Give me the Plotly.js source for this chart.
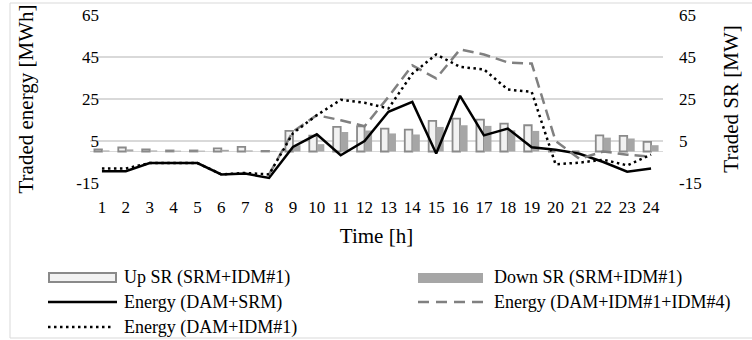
<!DOCTYPE html>
<html>
<head>
<meta charset="utf-8">
<script src="https://cdn.plot.ly/plotly-3.0.1.min.js"></script>
<style>html,body{margin:0;padding:0;background:#fff;} #chart{width:752px;height:340px;}</style>
</head>
<body>
<div id="chart"></div>
<script>
// ---- data ----
var hours = ['1','2','3','4','5','6','7','8','9','10','11','12','13','14','15','16','17','18','19','20','21','22','23','24'];
var upSR   = [1, 1.9, 1, 0.5, 0.5, 1.5, 2.2, 0.3, 9.8, 7.5, 11.7, 12, 10.9, 10.4, 14.6, 15.7, 15.2, 13.3, 12.5, 0, 0, 7.7, 7.4, 4.6];
var downSR = [0.5, 1, 0.5, 0.4, 0.4, 0.8, 0.5, 0.3, 3, 3.5, 9.3, 10, 8.6, 8.1, 11.7, 12.5, 12.2, 10.1, 9.8, 0, 0, 6.6, 6.2, 3];
var energyDamSrm = [-9.4, -9.4, -5.5, -5.5, -5.5, -10.9, -10.5, -12.6, 2.2, 8.2, -1.8, 5, 18.9, 23.6, -1, 26.5, 7.7, 10.9, 2.0, 0.8, -1.1, -5, -9.6, -8.1];
var energyDamIdm1Idm4 = [null, null, null, null, null, null, null, -10.9, 9.5, 17.3, 14.9, 12, 26, 41, 34.8, 48.6, 46.2, 42.4, 41.9, 5, -3.5, 0, -1.5, -2.5];
var energyDamIdm1 = [-8.1, -8.1, -5.5, -5.5, -5.5, -10.9, -10.2, -10.9, 8.7, 17.3, 24.6, 23.2, 20.5, 37, 46.2, 40.3, 39.1, 29.5, 28.4, -6.1, -5.3, -3.9, -6.6, -1.5];
var yTicks = [-15, 5, 25, 45, 65];

var legendNames = ['Up SR (SRM+IDM#1)', 'Down SR (SRM+IDM#1)', 'Energy (DAM+SRM)', 'Energy (DAM+IDM#1+IDM#4)', 'Energy (DAM+IDM#1)'];

// ---- geometry helpers (pixel -> paper) ----
var W = 752, H = 340, L = 90, R = 89, T = 15, B = 157;
var pw = W - L - R, ph = H - T - B;
function px(x){ return (x - L) / pw; }
function py(y){ return (H - B - y) / ph; }

var FONT = 'Liberation Serif';
var upFill = '#f2f2f2', upLine = '#8a8a8a', downFill = '#a6a6a6', dashCol = '#808080';

var traces = [
  {type:'bar', x:hours, y:upSR, name:legendNames[0], yaxis:'y', showlegend:false,
   marker:{color:upFill, line:{color:upLine, width:1.8}}},
  {type:'bar', x:hours, y:downSR, name:legendNames[1], yaxis:'y', showlegend:false,
   marker:{color:downFill, line:{width:0}}},
  {type:'scatter', mode:'lines', x:hours, y:energyDamSrm, name:legendNames[2], yaxis:'y2', showlegend:false,
   line:{color:'#000000', width:2.5}},
  {type:'scatter', mode:'lines', x:hours, y:energyDamIdm1Idm4, name:legendNames[3], yaxis:'y2', showlegend:false,
   line:{color:dashCol, width:2.5, dash:'11px,6px'}},
  {type:'scatter', mode:'lines', x:hours, y:energyDamIdm1, name:legendNames[4], yaxis:'y2', showlegend:false,
   line:{color:'#000000', width:2.5, dash:'2.5px,3.5px'}}
];

// custom legend (shapes + text)
var rows = [277, 302, 327];
var shapes = [
  {type:'rect', xref:'paper', yref:'paper', x0:px(10), x1:px(800), y0:py(338), y1:py(3), line:{color:'#d9d9d9', width:1}, fillcolor:'rgba(0,0,0,0)', layer:'below'},
  {type:'rect', xref:'paper', yref:'paper', x0:px(49), x1:px(116), y0:py(282), y1:py(273), line:{color:upLine, width:2}, fillcolor:upFill},
  {type:'rect', xref:'paper', yref:'paper', x0:px(418), x1:px(483), y0:py(283), y1:py(273), line:{width:0}, fillcolor:downFill},
  {type:'line', xref:'paper', yref:'paper', x0:px(48), x1:px(117), y0:py(rows[1]), y1:py(rows[1]), line:{color:'#000', width:2.5}},
  {type:'line', xref:'paper', yref:'paper', x0:px(418), x1:px(483), y0:py(rows[1]), y1:py(rows[1]), line:{color:dashCol, width:2.5, dash:'11px,7px'}},
  {type:'line', xref:'paper', yref:'paper', x0:px(48), x1:px(112), y0:py(rows[2]), y1:py(rows[2]), line:{color:'#000', width:2.5, dash:'2.5px,3.5px'}}
];
function legText(i, x, y){
  return {xref:'paper', yref:'paper', x:px(x), y:py(y), xanchor:'left', yanchor:'middle', showarrow:false,
          text:legendNames[i], font:{family:FONT, size:18, color:'#000'}};
}
var annotations = [
  legText(0, 122, rows[0]), legText(1, 492, rows[0]),
  legText(2, 122, rows[1]), legText(3, 492, rows[1]),
  legText(4, 122, rows[2])
];

var layout = {
  width:W, height:H,
  margin:{l:L, r:R, t:T, b:B, pad:0},
  paper_bgcolor:'#ffffff', plot_bgcolor:'#ffffff',
  font:{family:FONT, color:'#000', size:17},
  showlegend:false,
  barmode:'group', bargap:0.37, bargroupgap:0,
  xaxis:{type:'category', showgrid:false, showline:false, zeroline:false, ticks:'',
         ticklabelstandoff:12, tickfont:{family:FONT, size:17, color:'#000'},
         title:{text:'Time [h]', font:{family:FONT, size:21, color:'#000'}, standoff:12}},
  yaxis:{side:'right', range:[-15,65], tickvals:yTicks, ticktext:yTicks.map(String),
         showgrid:true, gridcolor:'#d9d9d9', gridwidth:1.5,
         zeroline:true, zerolinecolor:'#d9d9d9', zerolinewidth:1.5,
         showline:false, ticks:'', ticklabelstandoff:15,
         tickfont:{family:FONT, size:17, color:'#000'},
         title:{text:'Traded SR [MW]', font:{family:FONT, size:21, color:'#000'}, standoff:22}},
  yaxis2:{side:'left', overlaying:'y', range:[-15,65], tickvals:yTicks, ticktext:yTicks.map(String),
          showgrid:false, zeroline:false, showline:false, ticks:'', ticklabelstandoff:-10,
          tickfont:{family:FONT, size:17, color:'#000'},
          title:{text:'Traded energy [MWh]', font:{family:FONT, size:21, color:'#000'}, standoff:36}},
  shapes:shapes,
  annotations:annotations
};

Plotly.newPlot('chart', traces, layout, {displayModeBar:false, staticPlot:true});
</script>
</body>
</html>
